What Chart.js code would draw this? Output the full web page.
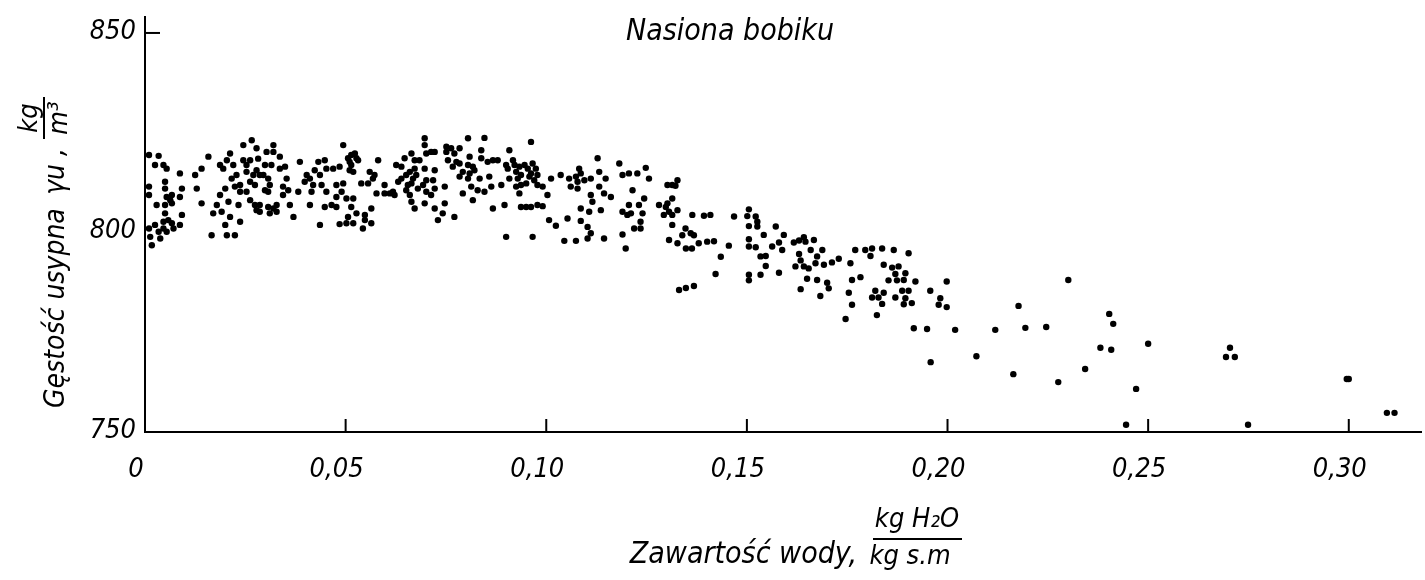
<!DOCTYPE html>
<html>
<head>
<meta charset="utf-8">
<script src="https://cdn.jsdelivr.net/npm/chart.js@4"></script>
<style>
  html, body { margin: 0; padding: 0; background: #fff; }
  #wrap { width: 1425px; height: 580px; }
</style>
</head>
<body>
<div id="wrap"><canvas id="densityChart" width="1425" height="580"></canvas></div>
<script>
// Tick values and labels
var xTicks = [0, 0.05, 0.10, 0.15, 0.20, 0.25, 0.30];
var xTickLabels = ['0', '0,05', '0,10', '0,15', '0,20', '0,25', '0,30'];
var yTicks = [750, 800, 850];
var yTickLabels = ['750', '800', '850'];

var seedsDry = [
  [0.001,819.4],[0.0034,819.2],[0.001,811.5],[0.001,809.4],[0.0017,796.8],[0.001,801.0],[0.0025,816.9],[0.0046,816.9],
  [0.0054,816.0],[0.0087,814.8],[0.005,812.7],[0.005,811.0],[0.0067,809.4],[0.0054,808.9],[0.0087,808.9],[0.0029,806.9],
  [0.005,806.9],[0.0067,807.3],[0.0063,808.1],[0.0092,811.0],[0.005,804.8],[0.0092,804.4],[0.0025,801.9],[0.0046,802.7],
  [0.0058,803.1],[0.0067,802.3],[0.0046,801.0],[0.0034,800.2],[0.0054,800.2],[0.0071,801.0],[0.0087,801.9],[0.0038,798.5],
  [0.0013,798.9],[0.0125,814.4],[0.0158,819.0],[0.0141,816.0],[0.0129,811.0],[0.0141,807.3],[0.0166,799.3],[0.0179,806.9],
  [0.017,804.8],[0.0187,809.4],[0.0191,805.2],[0.0195,816.0],[0.0212,819.8],[0.0204,818.1],[0.0187,816.9],[0.02,811.0],
  [0.0208,807.7],[0.0212,803.9],[0.02,801.9],[0.0204,799.3],[0.0224,799.3],[0.0237,802.7],[0.0233,806.9],[0.022,816.9],
  [0.0228,814.4],[0.0216,813.5],[0.0237,811.9],[0.0245,821.9],[0.0266,823.1],[0.0278,821.1],[0.0245,818.1],[0.0253,816.9],
  [0.0262,818.1],[0.0253,815.2],[0.027,814.4],[0.0282,818.5],[0.0278,815.6],[0.0262,812.7],[0.0274,811.9],[0.0286,814.4],
  [0.0303,820.2],[0.032,821.9],[0.032,820.2],[0.0315,816.9],[0.0299,816.9],[0.0307,813.5],[0.0311,811.9],[0.0307,810.2],
  [0.0299,810.6],[0.0295,814.4],[0.0336,819.0],[0.0336,816.0],[0.0349,816.5],[0.0353,813.5],[0.0344,811.5],[0.0357,810.6],
  [0.0344,809.4],[0.0361,806.9],[0.032,806.0],[0.0328,806.9],[0.0307,806.4],[0.0286,806.9],[0.0274,806.9],[0.0278,805.6],
  [0.0286,805.2],[0.0311,804.8],[0.0328,805.2],[0.0262,808.1],[0.0253,810.2],[0.0237,810.2],[0.0224,811.5],[0.037,803.9],
  [0.0382,810.2],[0.0386,817.7],[0.0403,814.4],[0.0398,812.7],[0.0411,813.5],[0.0419,811.9],[0.0432,817.7],[0.0448,818.1],
  [0.0452,816.0],[0.0469,816.0],[0.0436,814.4],[0.044,811.9],[0.0452,810.2],[0.0415,810.2],[0.0411,806.9],[0.0448,806.4],
  [0.0436,801.9],[0.0465,806.9],[0.0423,815.6]
];

var seedsMid = [
  [0.0494,821.9],[0.0485,816.5],[0.0506,818.6],[0.051,817.7],[0.0514,819.4],[0.0523,819.8],[0.0527,818.6],[0.0514,816.9],
  [0.051,815.6],[0.0519,815.2],[0.0531,818.1],[0.0477,811.9],[0.0494,812.3],[0.049,810.2],[0.0477,808.9],[0.0502,808.5],
  [0.0519,808.5],[0.0477,806.4],[0.0514,806.4],[0.0527,804.8],[0.0506,803.9],[0.0485,802.1],[0.0502,802.3],[0.0519,802.3],
  [0.0548,804.4],[0.0548,803.1],[0.0543,801.0],[0.0564,802.3],[0.0564,806.0],[0.056,815.2],[0.0572,814.4],[0.0568,813.5],
  [0.0556,812.3],[0.0539,812.3],[0.0581,818.1],[0.0577,809.8],[0.0597,809.8],[0.0597,811.9],[0.061,809.8],[0.0618,810.2],
  [0.0622,809.4],[0.0626,816.9],[0.0639,816.5],[0.0647,818.6],[0.0664,819.8],[0.0672,818.1],[0.0684,818.1],[0.0697,823.6],
  [0.0697,821.9],[0.0701,819.8],[0.0713,820.2],[0.0722,820.2],[0.0631,812.7],[0.0639,813.5],[0.0651,814.4],[0.066,815.2],
  [0.0672,816.0],[0.0676,814.4],[0.0668,813.5],[0.0664,812.3],[0.0655,811.9],[0.0651,810.6],[0.066,809.4],[0.0664,807.7],
  [0.0672,806.0],[0.0697,816.0],[0.0701,813.1],[0.0693,811.9],[0.068,811.0],[0.0722,815.6],[0.0718,813.1],[0.0722,811.0],
  [0.0713,809.4],[0.0701,810.2],[0.0697,807.3],[0.0722,806.0],[0.073,803.1],[0.0747,807.3],[0.0742,804.8],[0.0771,803.9],
  [0.0747,811.5],[0.0751,821.5],[0.0751,820.2],[0.0755,818.1],[0.0763,821.1],[0.0771,819.8],[0.0767,816.5],[0.0776,817.7],
  [0.0784,821.1],[0.0784,817.3],[0.0792,815.2],[0.0784,814.0],[0.0805,823.6],[0.0809,819.0],[0.0805,816.9],[0.0805,813.5],
  [0.0809,814.8],[0.0817,816.5],[0.0821,815.6],[0.0813,811.5],[0.0792,809.8],[0.0817,808.1],[0.0829,810.6],[0.0838,820.6],
  [0.0838,818.6],[0.0834,813.5],[0.0846,810.2],[0.0846,823.7],[0.0854,817.7],[0.0867,818.1],[0.0879,818.1],[0.0858,814.0],
  [0.0863,811.5],[0.0867,806.0],[0.0888,811.9],[0.0896,806.9],[0.0908,820.6],[0.09,816.9],[0.0904,816.0],[0.0908,813.5],
  [0.0917,818.1],[0.0921,816.9],[0.0925,815.2],[0.0929,813.5],[0.0933,816.5],[0.0937,814.4],[0.0946,816.9],[0.0954,816.0],
  [0.0958,814.0],[0.0937,811.9],[0.095,812.3],[0.0925,811.5],[0.0962,822.7],[0.0937,806.4],[0.0962,806.4],[0.095,806.4],
  [0.09,798.9],[0.0966,798.9],[0.0933,809.8]
];

var seedsMoist = [
  [0.0966,817.3],[0.0962,814.8],[0.0974,816.0],[0.0978,814.4],[0.097,813.1],[0.0978,811.9],[0.0991,811.5],[0.1003,809.4],
  [0.0978,806.9],[0.0991,806.6],[0.1012,813.5],[0.1036,814.4],[0.1057,813.5],[0.1061,811.5],[0.1074,814.0],[0.1082,816.0],
  [0.1086,814.8],[0.1078,812.7],[0.1078,811.0],[0.1095,813.1],[0.1111,813.5],[0.1128,818.6],[0.1132,815.2],[0.1148,813.5],
  [0.1132,811.5],[0.1111,809.4],[0.1144,809.8],[0.1161,808.9],[0.1115,807.7],[0.1136,805.6],[0.1086,806.0],[0.1107,805.2],
  [0.1086,802.9],[0.1053,803.5],[0.1007,803.1],[0.1024,801.7],[0.1103,801.4],[0.1111,799.8],[0.1103,798.5],[0.1045,797.9],
  [0.1074,797.9],[0.1144,798.5],[0.1182,817.3],[0.119,814.4],[0.1206,814.8],[0.1227,814.8],[0.1248,816.2],[0.1256,813.5],
  [0.1215,810.6],[0.1244,808.5],[0.1231,806.9],[0.1206,806.9],[0.119,805.2],[0.1202,804.4],[0.1211,804.8],[0.124,804.8],
  [0.1235,802.7],[0.1235,801.0],[0.1219,801.0],[0.119,799.5],[0.1198,796.0],[0.1281,806.9],[0.1298,806.4],[0.1302,807.3],
  [0.1306,805.2],[0.1293,804.4],[0.1314,804.4],[0.1327,805.6],[0.1314,801.9],[0.1314,808.5],[0.1302,811.9],[0.1314,811.9],
  [0.1322,811.7],[0.1327,813.1],[0.1364,804.4],[0.1393,804.2],[0.1409,804.4],[0.1347,801.0],[0.136,799.8],[0.1368,799.3],
  [0.1339,799.3],[0.1306,798.1],[0.1327,797.3],[0.138,797.3],[0.1401,797.7],[0.1418,797.8],[0.1348,796.0],[0.1363,796.0],
  [0.1331,785.6],[0.1348,786.1],[0.1368,786.6],[0.1435,793.9],[0.1422,789.6]
];

var seedsWet = [
  [0.1468,804.0],[0.1505,805.8],[0.1501,804.1],[0.1522,804.0],[0.1526,802.7],[0.1526,801.5],[0.1505,801.6],[0.1572,801.5],
  [0.1542,799.4],[0.1592,799.4],[0.1455,796.7],[0.1505,798.3],[0.1505,796.5],[0.1522,796.3],[0.158,797.5],[0.1563,796.5],
  [0.1588,795.6],[0.1617,797.5],[0.163,798.0],[0.1642,798.8],[0.1646,797.7],[0.1667,798.1],[0.1534,794.0],[0.1547,794.1],
  [0.1547,791.6],[0.1505,789.4],[0.1505,788.0],[0.1534,789.4],[0.158,789.9],[0.163,794.6],[0.1634,793.0],[0.1621,791.5],
  [0.1642,791.5],[0.1654,791.0],[0.1659,795.6],[0.1675,794.0],[0.1688,795.6],[0.1671,792.3],[0.1692,791.9],[0.1712,792.5],
  [0.1729,793.4],[0.165,788.4],[0.1675,788.1],[0.17,787.4],[0.1704,786.0],[0.1634,785.8],[0.1683,784.1],[0.1758,792.3],
  [0.177,795.6],[0.1795,795.6],[0.1808,794.1],[0.1812,796.0],[0.1837,796.0],[0.1866,795.6],[0.1903,794.8],[0.1841,791.9],
  [0.1862,791.2],[0.1878,791.5],[0.187,789.6],[0.1895,789.8],[0.1853,788.0],[0.1874,788.0],[0.1891,788.1],[0.192,787.7],
  [0.1762,788.1],[0.1783,788.8],[0.1754,784.9],[0.1762,781.9],[0.1746,778.3],[0.182,785.4],[0.1841,784.9],[0.1812,783.7],
  [0.1828,783.7],[0.1837,782.1],[0.1824,779.3],[0.187,783.7],[0.1887,785.4],[0.1903,785.4],[0.1895,783.5],[0.1891,782.0],
  [0.1911,782.3],[0.1957,785.4],[0.1982,783.5],[0.1978,781.9],[0.1998,781.3],[0.1998,787.7],[0.1916,776.0],[0.1949,775.8],
  [0.2019,775.6],[0.2119,775.6],[0.1958,767.5],[0.2072,769.0]
];

var seedsVeryWet = [
  [0.2177,781.6],[0.2194,776.1],[0.2246,776.3],[0.2301,788.1],[0.2164,764.5],[0.2276,762.5],[0.2343,765.8],[0.2381,771.1],
  [0.2403,779.6],[0.2413,777.1],[0.2408,770.6],[0.25,772.1],[0.247,760.8],[0.2445,751.8],[0.2704,771.1],[0.2694,768.8],
  [0.2716,768.8],[0.2749,751.8],[0.2995,763.3],[0.3,763.3],[0.3095,754.8],[0.3114,754.8]
];

var allPoints = seedsDry.concat(seedsMid, seedsMoist, seedsWet, seedsVeryWet).map(function (p) {
  return { x: p[0], y: p[1] };
});

var labelFont = '"DejaVu Sans Condensed", "DejaVu Sans", sans-serif';
Chart.defaults.font.family = labelFont;
Chart.defaults.color = '#000';

// Texts drawn around the plot: title, axis names with unit fractions, inward tick marks
var decorations = {
  id: 'decorations',
  afterDraw: function (chart) {
    var ctx = chart.ctx;
    var xs = chart.scales.x, ys = chart.scales.y;
    ctx.save();
    ctx.strokeStyle = '#000';
    ctx.fillStyle = '#000';
    ctx.lineWidth = 2;

    // tick marks pointing into the plot
    xTicks.forEach(function (v) {
      if (v === 0) return;
      var px = xs.getPixelForValue(v);
      ctx.beginPath();
      ctx.moveTo(px, ys.bottom);
      ctx.lineTo(px, ys.bottom - 13);
      ctx.stroke();
    });
    var py850 = ys.getPixelForValue(850);
    ctx.beginPath();
    ctx.moveTo(xs.left, py850);
    ctx.lineTo(xs.left + 15, py850);
    ctx.stroke();

    // title
    ctx.font = 'italic 30px ' + labelFont;
    ctx.textAlign = 'center';
    ctx.textBaseline = 'middle';
    ctx.fillText('Nasiona bobiku', 730, 32);

    // x axis name
    ctx.textAlign = 'right';
    ctx.fillText('Zawartość wody,', 857, 555);
    ctx.font = 'italic 27px ' + labelFont;
    ctx.textAlign = 'center';
    ctx.fillText('kg H₂O', 917, 520);
    ctx.fillText('kg s.m', 910, 557);
    ctx.beginPath();
    ctx.moveTo(873, 539);
    ctx.lineTo(962, 539);
    ctx.stroke();

    // y axis name, rotated
    ctx.translate(57, 0);
    ctx.rotate(-Math.PI / 2);
    ctx.font = 'italic 28px ' + labelFont;
    ctx.textAlign = 'left';
    ctx.fillText('Gęstość usypna', -408, 0);
    ctx.textAlign = 'right';
    ctx.fillText('γu ,', -148, 0);
    ctx.font = 'italic 27px ' + labelFont;
    ctx.textAlign = 'center';
    ctx.fillText('kg', -118, -27);
    ctx.fillText('m³', -118, 3);
    ctx.beginPath();
    ctx.moveTo(-139, -13);
    ctx.lineTo(-97, -13);
    ctx.stroke();
    ctx.restore();
  }
};

var ctx = document.getElementById('densityChart').getContext('2d');
var densityChart = new Chart(ctx, {
  type: 'scatter',
  data: {
    datasets: [{
      label: 'Nasiona bobiku',
      data: allPoints,
      pointRadius: 3.2,
      pointBorderWidth: 0,
      pointBackgroundColor: '#000',
      borderColor: '#000'
    }]
  },
  options: {
    responsive: false,
    animation: false,
    events: [],
    layout: { padding: { top: 17, right: 0, left: 0, bottom: 0 } },
    plugins: {
      legend: { display: false },
      tooltip: { enabled: false }
    },
    scales: {
      x: {
        type: 'linear',
        min: 0,
        max: 0.318,
        afterBuildTicks: function (scale) {
          scale.ticks = xTicks.map(function (v) { return { value: v }; });
        },
        afterFit: function (scale) {
          scale.height = 148;
          scale.paddingLeft = 0;
          scale.paddingRight = 0;
        },
        grid: { display: false, drawTicks: false },
        border: { display: true, color: '#000', width: 2 },
        ticks: {
          autoSkip: false,
          maxRotation: 0,
          padding: 22,
          labelOffset: -9,
          font: { size: 27, style: 'italic' },
          color: '#000',
          callback: function (value, index) { return xTickLabels[index]; }
        }
      },
      y: {
        type: 'linear',
        min: 750,
        max: 854,
        afterBuildTicks: function (scale) {
          scale.ticks = yTicks.map(function (v) { return { value: v }; });
        },
        afterFit: function (scale) {
          scale.width = 145;
          scale.paddingTop = 0;
          scale.paddingBottom = 0;
        },
        grid: { display: false, drawTicks: false },
        border: { display: true, color: '#000', width: 2 },
        ticks: {
          padding: 9,
          labelOffset: -1,
          font: { size: 27, style: 'italic' },
          color: '#000',
          callback: function (value, index) { return yTickLabels[index]; }
        }
      }
    }
  },
  plugins: [decorations]
});
</script>
</body>
</html>
